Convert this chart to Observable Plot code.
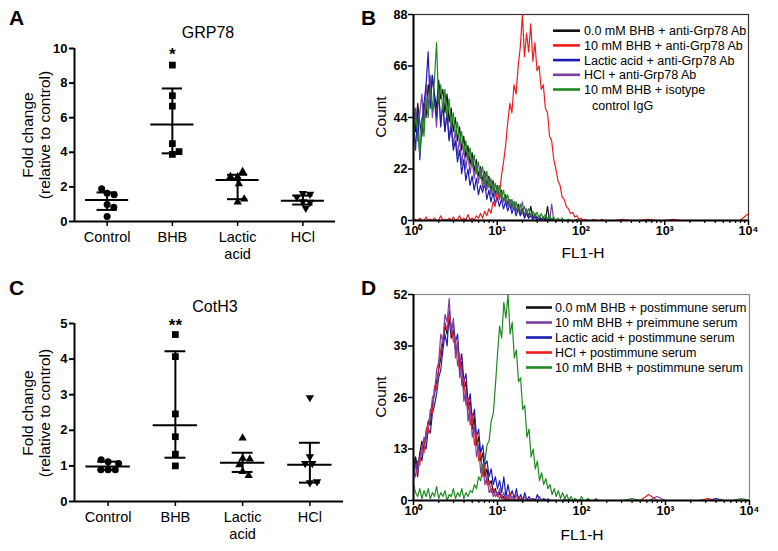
<!DOCTYPE html>
<html><head><meta charset="utf-8">
<script src="https://cdn.jsdelivr.net/npm/d3@7"></script>
<script src="https://cdn.jsdelivr.net/npm/@observablehq/plot@0.6"></script>
<style>
html,body{margin:0;padding:0;background:#fff;}
#root{position:relative;width:778px;height:551px;overflow:hidden;background:#fff;font-family:"Liberation Sans",Arial,sans-serif;}
#root > svg{position:absolute;}
</style></head><body><div id="root"></div>
<script>
// ---------- Data ----------
const categories = ["Control", "BHB", "Lactic acid", "HCl"];
const categoryLabels = ["Control", "BHB", "Lactic\nacid", "HCl"];

// Panel A: GRP78 fold change
const grp78Control = [1.63, 1.54, 1.90, 0.98, 0.83, 0.29];
const grp78BHB = [9.04, 7.27, 6.67, 4.50, 3.88, 4.04];
const grp78Lactic = [2.58, 2.88, 2.60, 2.17, 1.12, 1.29];
const grp78HCl = [1.15, 1.63, 1.12, 1.58, 1.40, 0.77];
const grp78Center = [1.25, 5.60, 2.40, 1.20];
const grp78Low = [0.67, 3.94, 1.29, 0.98];
const grp78High = [1.68, 7.69, 2.70, 1.50];
const grp78Stars = ["", "*", "", ""];
const grp78YTicks = [0, 2, 4, 6, 8, 10];

// Panel C: CotH3 fold change
const cotControl = [1.12, 0.89, 0.89, 0.89, 1.07, 1.17];
const cotBHB = [4.69, 4.07, 2.46, 1.82, 1.33, 1.00];
const cotLactic = [1.78, 1.21, 1.19, 1.03, 0.84, 0.73];
const cotHCl = [2.92, 1.26, 1.07, 1.07, 0.53, 0.56];
const cotCenter = [0.98, 2.14, 1.09, 1.03];
const cotLow = [0.89, 1.23, 0.83, 0.53];
const cotHigh = [1.12, 4.22, 1.37, 1.65];
const cotStars = ["", "**", "", ""];
const cotYTicks = [0, 1, 2, 3, 4, 5];

// Flow cytometry histograms: FL1-H channel values and counts
const fl1h = [
  1.000,1.059,1.122,1.189,1.259,1.334,1.413,1.496,1.585,1.679,
  1.778,1.884,1.995,2.113,2.239,2.371,2.512,2.661,2.818,2.985,
  3.162,3.350,3.548,3.758,3.981,4.217,4.467,4.732,5.012,5.309,
  5.623,5.957,6.310,6.683,7.079,7.499,7.943,8.414,8.913,9.441,
  10.00,10.59,11.22,11.89,12.59,13.34,14.13,14.96,15.85,16.79,
  17.78,18.84,19.95,21.13,22.39,23.71,25.12,26.61,28.18,29.85,
  31.62,33.50,35.48,37.58,39.81,42.17,44.67,47.32,50.12,53.09,
  56.23,59.57,63.10,66.83,70.79,74.99,79.43,84.14,89.13,94.41,
  100.0,105.9,112.2,118.9,125.9,133.4,141.3,149.6,158.5,167.9,
  177.8,188.4,199.5,
  251,316,398,501,631,794,1000,1259,1585,1995,2512,3162,3981,5012,6310,7943,10000];
const xTickValues = [1, 10, 100, 1000, 10000];
const xTickLabels = ["10\u2070", "10\u00b9", "10\u00b2", "10\u00b3", "10\u2074"];

// Panel B
const bBlack = [
  48,38,50,42,36,50,44,58,50,62, 54,48,60,52,56,46,54,42,48,38,
  44,34,40,30,36,27,32,24,29,21, 26,19,23,17,21,15,19,13,17,11,
  15,10,13,8,11,7,9,6,8,4, 7,3,5,2,4,2,6,1,3,1,
  2,0.5,1.5,0,6,0,0.5,0,0,0, 0,0,0,0,0,0,0,0,0,0,
  0,0,0,0,0,0,0,0,0,0, 0,0,0,
  0,0,0,0,0,0,0,0,0,0,0,0,0,0,0,0,0];
const bRed = [
  0,0.5,0,1,0,0,1.5,0,0.5,0, 1,0,0,2,0,0.5,0,1,0,1.5,
  0,0.5,2,0,1,0,2.5,0.5,1,0, 2,1,3,1,4,2,5,3,8,6,
  12,10,19,25,32,42,50,46,58,54, 66,74,88,70,80,72,84,68,76,64,
  66,56,58,48,46,36,34,26,22,17, 15,10,9,6,5,3,3.5,1.5,2,0.5,
  1,0,0.5,0,0,0,0.5,0,0,0, 0.5,0,0,
  0,0.5,0,0,0.5,0,0,0.5,0,0,0,0,0,0,0,0,3];
const bBlue = [
  42,30,48,26,40,50,58,72,48,62, 52,44,56,40,50,38,46,34,40,30,
  34,25,30,20,26,17,22,15,19,13, 18,11,15,12,16,9,13,8,12,7,
  10,6,9,5,8,4,7,3,6,2, 5,2,4,1,3,1,2,0.5,1.5,0,
  1,0,0.5,0,1,0,0,0,0,0, 0,0,0,0,0,0,0,0,0,0,
  0,0,0,0,0,0,0,0,0,0, 0,0,0,
  0,0,0,0,0,0,0,0,0,0,0,0,0,0,0,0,0];
const bPurple = [
  40,48,34,46,54,40,58,48,62,44, 52,40,55,42,50,38,46,35,42,32,
  38,28,35,24,31,22,29,20,26,18, 24,16,22,14,20,13,18,11,16,10,
  14,9,12,8,10,6,9,5,8,4, 6,3,8,2,5,1,3,1,2,0.5,
  1,0,0.5,0,0,0,7,0,0,0, 0,0,0,0,0,0,0,0,0,0,
  0,0,0,0,0,0,0,0,0,0, 0,0,0,
  0,0,0,0,0,0,0,0,0,0,0,0,0,0,0,0,0];
const bGreen = [
  34,45,38,28,44,36,52,44,56,47, 60,76,50,58,47,56,44,52,40,46,
  36,42,33,38,29,34,26,31,23,28, 20,25,18,23,15,21,14,18,12,16,
  11,15,9,13,8,11,6,9,5,8, 4,7,3,6,3,5,2,4,2,3.5,
  1,3,1,2.5,0.5,2,0.5,1.5,0,1, 0,1,0,0,0.5,0,0,0,0.5,0,
  0,0,0,0,0,0,0,0,0,0, 0,0,0,
  0,0,0,0,0,0,0,0,0,0,0,0,0,0,0,0,0];
const bLegend = ["0.0 mM BHB + anti-Grp78 Ab", "10 mM BHB + anti-Grp78 Ab", "Lactic acid + anti-Grp78 Ab", "HCl + anti-Grp78 Ab", "10 mM BHB + isotype", "control IgG"];
const bYTicks = [0, 22, 44, 66, 88];

// Panel D
const dBlack = [
  9,11,8,12,15,13,17,20,19,24, 27,30,33,36,40,44,42,46,41,43,
  38,39,33,35,28,30,23,25,18,21, 14,16,10,12,6,8,4,5,2,3,
  1,2,0.5,1,0,0.5,0,0,0,0, 0,0,0,0,0,0,0,0,0,0,
  0,0,0,0,0,0,0,0,0,0, 0,0,0,0,0,0,0,0,0,0,
  0,0,0,0,0,0,0,0,0,0, 0,0,0,
  0,0,0,0,0,0,0,0,0,0,0,0,0,0,0,0,0];
const dPurple = [
  5,9,7,11,12,16,15,20,21,26, 27,33,35,42,40,47,45,51,42,46,
  36,40,31,34,25,28,20,24,16,19, 11,14,7,9,4,6,2,3,1,2.5,
  1,3,0.5,2,0,1.5,0,1,0,1.5, 0,0.5,0,1,0,0,0.5,0,0,0,
  1,0,0,0,0.5,0,0,0,0,0, 0,0,0.5,0,0,0,0,0,0,0,
  0,0,0,0,0,0,0,0,0,0, 0,0,0,
  0,0,0,0,0,1,0,0,0,0,0,0,0,0,0,0,0];
const dBlue = [
  7,10,6,12,10,14,13,18,17,22, 24,27,31,33,38,42,39,48,43,45,
  40,42,34,37,30,32,24,27,20,23, 16,18,12,14,9,10,6,8,4,6,
  3,5,2,6,1,4,1,2.5,0.5,3, 0,1.5,0,2,0,1,0,0.5,0,1.5,
  0,0,0.5,0,0,0,0,0,0,0, 0,0,0,0,0,0,0,0,0,0,
  0,0,0,0,0,0,0,0,0,0, 0,0,0,
  0,0,0,0,0,0,0,0,0,0,0,0,0.5,0,0,0,0];
const dRed = [
  8,6,10,9,14,12,18,17,23,22, 29,28,34,38,41,45,43,47,44,40,
  41,34,37,29,31,24,26,19,22,14, 17,10,12,6,9,4,5,2,3,1,
  2,0.5,1.5,0,1,0,2,0,0.5,0, 1,0,0,0,0.5,0,0,0,0,0,
  0,0,0,0,0,0,0,0,0,0, 0,0,0,0,0,0,0,0,0,0,
  0,0,0,0,0,0,0,0,0,0, 0,0,0,
  0,0,0,0,1.5,0,0,0,0,0,0,0.5,0,0,0,0,0];
const dGreen = [
  4,2,1,3,0.5,2.5,1,3,0.5,2, 1,3.5,0.5,2,1,2.5,0,1.5,1,3,
  0.5,2,1,3,0.5,2,1,2.5,2,4, 3,6,5,9,10,14,15,20,22,29,
  37,44,41,50,46,52,42,45,36,38, 30,31,23,24,16,18,11,13,8,10,
  5,7,4,5.5,3,4,1.5,3,1,2.5, 0.5,2,0.5,1.5,0,1,0,0.5,0,0,
  1,0,0,0.5,0,0,0,0.5,0,0, 0,0,0,
  0,0,0.5,0,0,0,0,0,0,0,0,0,0,0,0,0.5,0];
const dLegend = ["0.0 mM BHB + postimmune serum", "10 mM BHB + preimmune serum", "Lactic acid + postimmune serum", "HCl + postimmune serum", "10 mM BHB + postimmune serum"];
const dYTicks = [0, 13, 26, 39, 52];

// ---------- Styles ----------
const FONT = '"Liberation Sans", Arial, Helvetica, sans-serif';
const C = {black: "#111111", red: "#f01c1c", blue: "#1c1cb4", purple: "#7b40a2", green: "#1f8a22"};
const root = document.getElementById("root");

const triangleDown = {
  draw(context, size) {
    const s3 = Math.sqrt(3);
    const y = -Math.sqrt(size / (s3 * 3));
    context.moveTo(0, -y * 2);
    context.lineTo(-s3 * y, y);
    context.lineTo(s3 * y, y);
    context.closePath();
  }
};

function swarmOffsets(vals, k, D) {
  const placed = [];
  return vals.map(v => {
    const y = v * k;
    const cands = [0];
    for (const p of placed) {
      const dy = Math.abs(p.y - y);
      if (dy < D) { const dx = Math.sqrt(D * D - dy * dy); cands.push(p.x + dx, p.x - dx); }
    }
    cands.sort((a, b) => Math.abs(a) - Math.abs(b));
    const x = cands.find(c => placed.every(p => (p.x - c) ** 2 + (p.y - y) ** 2 >= D * D - 1e-6));
    placed.push({x, y});
    return x;
  });
}

function place(svg, left, top) {
  svg.style.position = "absolute";
  svg.style.left = left + "px";
  svg.style.top = top + "px";
  root.appendChild(svg);
}

function scatterPanel({groups, center, low, high, stars, yMax, yTicks, width, height, ml, mr, mt, mb, starDy}) {
  const bandPx = (width - ml - mr) / 4;
  const k = (height - mt - mb) / yMax;
  const pts = [];
  groups.forEach((vals, i) => {
    const offs = swarmOffsets(vals, k, 7.2);
    vals.forEach((v, j) => pts.push({g: i, x: i + offs[j] / bandPx, y: v}));
  });
  const stats = center.map((c, i) => ({i, c, lo: low[i], hi: high[i], s: stars[i]}));
  const syms = [["circle", 3.5], ["square", 3.8], ["triangle", 3.1], [triangleDown, 3.1]];
  return Plot.plot({
    width, height, marginLeft: ml, marginRight: mr, marginTop: mt, marginBottom: mb,
    style: {fontFamily: FONT, color: "#000", background: "transparent"},
    x: {domain: [-0.5, 3.5]},
    y: {domain: [0, yMax]},
    marks: [
      Plot.axisY({ticks: yTicks, tickFormat: d => String(d), tickSize: 5, tickPadding: 2, fontWeight: "bold", fontSize: 13, label: null, strokeWidth: 2}),
      Plot.axisX({ticks: [0, 1, 2, 3], tickFormat: i => categoryLabels[i], tickSize: 5, tickPadding: 3, fontSize: 14.5, lineHeight: 1.17, label: null, strokeWidth: 1.5}),
      Plot.ruleX([-0.5], {strokeWidth: 2}),
      Plot.ruleY([0], {strokeWidth: 2}),
      ...syms.map(([s, r], i) => Plot.dot(pts.filter(p => p.g === i), {x: "x", y: "y", r, symbol: s, fill: "#000", stroke: null})),
      Plot.ruleY(stats, {y: "c", x1: d => d.i - 0.33, x2: d => d.i + 0.33, strokeWidth: 2}),
      Plot.ruleY(stats, {y: "lo", x1: d => d.i - 0.155, x2: d => d.i + 0.155, strokeWidth: 2}),
      Plot.ruleY(stats, {y: "hi", x1: d => d.i - 0.155, x2: d => d.i + 0.155, strokeWidth: 2}),
      Plot.ruleX(stats, {x: "i", y1: "lo", y2: "hi", strokeWidth: 2}),
      Plot.text(stats, {x: "i", text: "s", frameAnchor: "top", lineAnchor: "top", dy: starDy, fontSize: 17, fontWeight: "bold"})
    ]
  });
}

function histPanel({series, yMax, yTicks, width, height, ml, mr, mt, mb, frameStroke}) {
  const minors = [];
  for (let e = 0; e < 4; e++) for (let m = 2; m <= 9; m++) minors.push(m * 10 ** e);
  return Plot.plot({
    width, height, marginLeft: ml, marginRight: mr, marginTop: mt, marginBottom: mb,
    style: {fontFamily: FONT, color: "#000", background: "transparent"},
    x: {type: "log", domain: [1, 10000]},
    y: {domain: [0, yMax]},
    marks: [
      Plot.frame({stroke: frameStroke, strokeWidth: 1.2}),
      ...series.map(([vals, color]) => Plot.line(fl1h.map((x, j) => ({x, y: vals[j]})), {x: "x", y: "y", stroke: color, strokeWidth: 1.2})),
      Plot.ruleX([1], {strokeWidth: 2}),
      Plot.ruleY([0], {strokeWidth: 2}),
      Plot.axisY({ticks: yTicks, tickSize: 5, tickPadding: 1, fontWeight: "bold", fontSize: 12.5, label: null, strokeWidth: 1.5}),
      Plot.axisX({ticks: xTickValues, tickFormat: (d) => xTickLabels[xTickValues.indexOf(d)], tickSize: 5, tickPadding: 1, fontWeight: "bold", fontSize: 12.5, label: null, strokeWidth: 1.5}),
      Plot.axisX({ticks: minors, tickFormat: () => "", tickSize: 3, label: null, strokeWidth: 1.2})
    ]
  });
}

// ---------- Panels ----------
place(scatterPanel({
  groups: [grp78Control, grp78BHB, grp78Lactic, grp78HCl],
  center: grp78Center, low: grp78Low, high: grp78High, stars: grp78Stars,
  yMax: 10, yTicks: grp78YTicks, width: 389, height: 270, ml: 74, mr: 54, mt: 48, mb: 49, starDy: -1
}), 0, 0);

place(scatterPanel({
  groups: [cotControl, cotBHB, cotLactic, cotHCl],
  center: cotCenter, low: cotLow, high: cotHigh, stars: cotStars,
  yMax: 5, yTicks: cotYTicks, width: 389, height: 281, ml: 74, mr: 46, mt: 53, mb: 50, starDy: -5
}), 0, 270);

place(histPanel({
  series: [[bBlack, C.black], [bPurple, C.purple], [bBlue, C.blue], [bRed, C.red], [bGreen, C.green]],
  yMax: 88, yTicks: bYTicks, width: 389, height: 270, ml: 24, mr: 30, mt: 14, mb: 50, frameStroke: "#333"
}), 389, 0);

place(histPanel({
  series: [[dBlack, C.black], [dBlue, C.blue], [dRed, C.red], [dPurple, C.purple], [dGreen, C.green]],
  yMax: 52, yTicks: dYTicks, width: 389, height: 281, ml: 24, mr: 29, mt: 24, mb: 51, frameStroke: "#888"
}), 389, 270);

// ---------- Overlay text (labels, titles, legends) ----------
const ov = d3.create("svg").attr("width", 778).attr("height", 551)
  .style("left", "0px").style("top", "0px").attr("font-family", FONT).attr("fill", "#000");
function txt(x, y, s, size, opts = {}) {
  const t = ov.append("text").attr("font-size", size).text(s)
    .attr("text-anchor", opts.anchor || "start").attr("font-weight", opts.weight || "normal");
  if (opts.rotate) t.attr("transform", `translate(${x},${y}) rotate(-90)`);
  else t.attr("x", x).attr("y", y);
  return t;
}
txt(9, 25, "A", 21, {weight: 900});
txt(361, 25, "B", 21, {weight: 900});
txt(9, 295, "C", 21, {weight: 900});
txt(361, 295, "D", 21, {weight: 900});
txt(208, 38, "GRP78", 16, {anchor: "middle"});
txt(215, 312, "CotH3", 16, {anchor: "middle"});
txt(33, 135, "Fold change", 15.5, {anchor: "middle", rotate: true});
txt(50, 135, "(relative to control)", 15.5, {anchor: "middle", rotate: true});
txt(33, 413, "Fold change", 15.5, {anchor: "middle", rotate: true});
txt(50, 413, "(relative to control)", 15.5, {anchor: "middle", rotate: true});
txt(386, 117, "Count", 15.5, {anchor: "middle", rotate: true});
txt(386, 397, "Count", 15.5, {anchor: "middle", rotate: true});
txt(583, 258, "FL1-H", 15.5, {anchor: "middle"});
txt(582, 540, "FL1-H", 15.5, {anchor: "middle"});
const bColors = [C.black, C.red, C.blue, C.purple, C.green];
bColors.forEach((c, i) => {
  const y = 30.7 + 14.7 * i;
  ov.append("line").attr("x1", 553).attr("x2", 580).attr("y1", y).attr("y2", y).attr("stroke", c).attr("stroke-width", 2.6);
  txt(584, y + 4.5, bLegend[i], 12.5);
});
txt(592, 105 + 4.5, bLegend[5], 12.5);
const dColors = [C.black, C.purple, C.blue, C.red, C.green];
dColors.forEach((c, i) => {
  const y = 307.5 + 15 * i;
  ov.append("line").attr("x1", 526).attr("x2", 552).attr("y1", y).attr("y2", y).attr("stroke", c).attr("stroke-width", 2.6);
  txt(555, y + 4.5, dLegend[i], 12.5);
});
const ovNode = ov.node();
ovNode.style.position = "absolute";
ovNode.style.pointerEvents = "none";
root.appendChild(ovNode);
</script>
</body></html>
